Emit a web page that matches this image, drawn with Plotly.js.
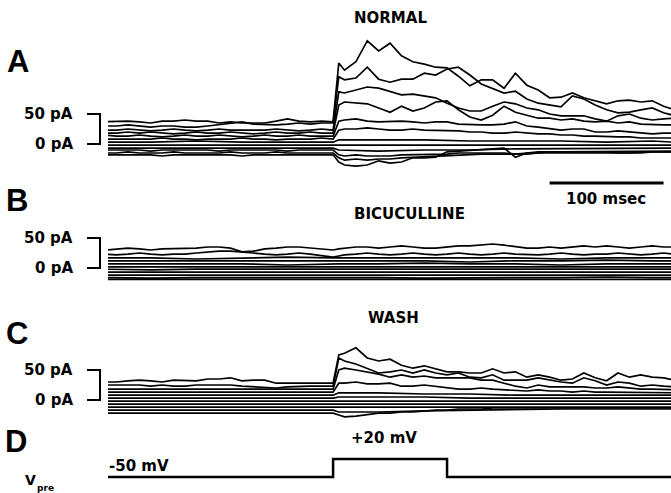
<!DOCTYPE html>
<html><head><meta charset="utf-8">
<script src="https://cdn.plot.ly/plotly-3.0.1.min.js"></script>
<style>html,body{margin:0;padding:0;background:#fff}#chart{width:671px;height:493px}</style>
</head><body><div id="chart"></div>
<script>
// ---- time bases (ms) ----
const tFull = [0,10,20,30,40,50,60,70,80,90,100,110,120,130,140,150,160,170,180,190,200,205,210,220,230,240,250,260,270,280,290,300,310,320,330,340,350,360,370,380,390,400,410,420,430,440,450,460,470,480,490,500];
const tFlat = [0,40,80,120,160,200,205,240,280,320,360,400,440,480,500];

// ---- Panel A: NORMAL (pA) ----
const A1 = [37,38,38,37,35,38,38,40,38,38,35,37,35,35,35,38,42,38,37,38,37, 135,123,137,172,155,168,147,137,133,128,127,113,97,107,107,93,118,98,90,77,78,85,77,72,67,72,73,70,72,63,57];
const A2 = [30,30,32,30,28,30,30,28,28,30,32,35,37,33,32,32,33,35,33,35,35, 112,107,110,128,108,103,108,108,118,115,125,128,115,100,93,85,88,75,68,65,62,80,75,65,57,52,53,57,60,52,47];
const A3 = [23,23,25,23,22,23,25,23,22,23,25,23,23,22,23,25,23,22,23,25,23, 87,85,90,95,93,87,82,83,80,77,68,60,55,55,63,70,67,60,57,50,47,47,47,42,38,47,50,43,40,42,43];
const A4 = [18,18,20,18,20,18,17,18,20,18,18,20,18,17,18,20,18,18,20,18,18, 65,70,68,67,60,53,63,55,60,70,72,57,45,40,48,63,53,48,43,43,40,42,38,37,38,35,37,33,32,32,32];
const A5 = [15,13,13,15,13,12,13,15,13,13,15,13,12,13,15,13,13,15,13,13,13, 38,40,42,38,37,38,38,37,35,37,37,33,32,32,32,33,37,30,28,25,23,25,25,20,20,22,20,18,17,18,18];
const A6 = [8,8,7,8,8,10,8,8,7,8,8,8,10,8,8,7,8,8,8,10,8, 23,25,25,27,25,23,23,25,23,23,22,22,20,20,18,18,20,18,17,17,15,15,13,13,12,12,12,10,10,10,10];
const A7 = [3,3,5,3,3,3, 7,7,7,5,5,5,3,5,3];
const A8 = [-2,-2,-3,-2,-2,-2, -3,-2,-3,-2,-3,-2,-2,-2,-2];
const A9 = [-7,-7,-8,-7,-7,-7, -10,-12,-10,-10,-8,-8,-8,-7,-7];
const A10 = [-10,-10,-10,-10,-12,-10,-10,-10,-10,-10,-12,-10,-10,-10,-10,-10,-12,-10,-10,-10,-10, -18,-20,-18,-20,-20,-20,-18,-18,-17,-17,-17,-15,-15,-15,-15,-15,-17,-15,-15,-13,-13,-13,-13,-13,-13,-13,-12,-13,-12,-12,-12];
const A11 = [-15,-15,-13,-15,-15,-15,-13,-15,-15,-15,-15,-13,-15,-15,-15,-13,-15,-15,-15,-15,-15, -23,-27,-25,-27,-25,-25,-23,-22,-22,-20,-20,-18,-18,-17,-17,-17,-18,-17,-15,-15,-15,-15,-15,-15,-15,-15,-15,-15,-13,-13,-13];
const A12 = [-18,-18,-18,-18,-18,-20,-18,-18,-18,-18,-18,-18,-20,-18,-18,-18,-18,-18,-18,-18,-18, -30,-35,-37,-35,-28,-32,-30,-23,-23,-22,-13,-12,-10,-10,-8,-7,-22,-15,-13,-13,-13,-13,-13,-13,-13,-15,-15,-13,-13,-13,-13];

// ---- Panel B: BICUCULLINE (pA) ----
const B1 = [30,32,33,32,30,32,32,33,33,35,35,33,27,28,32,33,35,35,33,32,30, 32,33,35,35,33,35,37,35,33,33,35,37,37,38,40,38,35,33,33,35,33,35,37,35,37,35,33,35,37,35,35];
const B2 = [23,22,23,25,23,22,23,23,25,27,28,28,27,25,23,22,23,25,23,20,18, 20,22,23,25,23,22,23,25,23,22,23,25,23,22,23,25,23,22,22,23,25,23,22,23,23,25,23,22,23,25,23];
const B3 = [17,17,15,17,18,17, 17,17,18,17,17,15,17,17,17];
const B4 = [12,12,13,12,12,12, 12,13,12,10,12,12,13,12,12];
const B5 = [7,7,8,7,5,7, 7,7,8,7,7,5,7,7,7];
const B6 = [2,2,3,2,2,2, 2,3,2,2,2,3,2,2,2];
const B7 = [-2,-3,-2,-2,-3,-2, -2,-2,-3,-2,-2,-2,-3,-2,-2];
const B8 = [-7,-7,-7,-8,-7,-7, -7,-7,-7,-8,-7,-7,-7,-8,-7];
const B9 = [-12,-12,-13,-12,-12,-12, -12,-12,-12,-13,-12,-12,-12,-12,-12];
const B10 = [-16,-17,-16,-16,-15,-16, -16,-16,-17,-16,-16,-16,-15,-16,-16];
const B11 = [-19,-19,-20,-19,-19,-19, -19,-19,-19,-20,-19,-19,-19,-19,-19];

// ---- Panel C: WASH (pA) ----
const C1 = [30,30,32,33,32,30,33,33,32,35,35,37,32,33,33,28,28,28,28,28,28, 75,78,87,70,65,68,58,53,57,52,47,47,45,45,52,45,47,38,42,38,33,35,45,37,32,45,38,42,38,37,33];
const C2 = [25,25,25,25,23,25,23,23,25,25,25,25,23,22,20,20,22,23,23,23,23, 70,65,60,52,45,47,50,45,50,45,42,45,38,37,42,33,33,33,37,33,30,28,37,32,25,30,28,23,25,23,22];
const C3 = [18,18,17,18,18,18,17,18,18,18,18,17,18,18,18,17,18,18,18,17,18, 50,53,50,47,43,38,42,38,40,37,37,37,37,33,33,28,23,20,25,22,22,23,22,20,20,22,20,18,18,17,17];
const C4 = [13,13,13,12,13,13,13,13,12,13,13,13,13,12,13,13,13,13,12,13,13, 28,28,30,27,27,28,23,23,25,23,20,18,18,20,18,17,17,15,17,15,15,13,15,13,13,13,13,12,13,12,12];
const C5 = [8,8,8,7,8,8, 12,12,10,10,8,8,8,7,8];
const C6 = [3,3,3,3,2,3, 5,5,5,3,3,3,3,3,3];
const C7 = [-2,-2,-2,-3,-2,-2, -3,-3,-2,-2,-2,-2,-2,-2,-2];
const C8 = [-7,-7,-7,-7,-8,-7, -8,-8,-8,-8,-7,-7,-7,-7,-7];
const C9 = [-12,-12,-12,-12,-12,-12, -13,-13,-13,-12,-12,-12,-12,-12,-12];
const C10 = [-17,-17,-17,-17,-17,-17, -20,-20,-18,-17,-15,-15,-15,-15,-15];
const C11 = [-22,-22,-22,-22,-23,-22,-22,-22,-22,-22,-22,-23,-22,-22,-22,-22,-22,-22,-23,-22,-22, -25,-28,-27,-25,-22,-22,-20,-20,-18,-17,-17,-15,-15,-15,-13,-13,-13,-13,-13,-13,-13,-12,-13,-13,-12,-13,-13,-12,-13,-13,-13];

// ---- Panel D: presynaptic command (mV) ----
const tStep = [0,200,200,300,300,500];
const Vpre = [-50,-50,20,20,-50,-50];

// ---- labels ----
const panelLetters = ['A','B','C','D'];
const panelTitles = ['NORMAL','BICUCULLINE','WASH'];
const bracketLabels = ['50 pA','0 pA'];
const bracketValues = [50, 0];
const scaleBarMs = 100;
const scaleBarLabel = '100 msec';
const stepLabelHigh = '+20 mV';
const stepLabelLow = '-50 mV';

// ---- geometry (pixels) ----
const W = 671, H = 493, L = 108;
const px = p => (p - L) / (W - L);
const py = p => 1 - p / H;
function panelAxis(topPx, botPx, zeroPx, pxPerUnit) {
  return {domain:[1 - botPx / H, 1 - topPx / H],
          range:[(zeroPx - botPx) / pxPerUnit, (zeroPx - topPx) / pxPerUnit],
          visible:false, anchor:'x', fixedrange:true};
}

const traces = [];
function add(t, arr, ax, w) {
  traces.push({x:t, y:arr, yaxis:ax, xaxis:'x', mode:'lines', hoverinfo:'skip',
               line:{color:'#000', width:w || 1.7}, showlegend:false});
}
[A1,A2,A3,A4,A5,A6,A10,A11,A12].forEach(a => add(tFull, a, 'y'));
[A7,A8,A9].forEach(a => add(tFlat, a, 'y'));
[B1,B2].forEach(a => add(tFull, a, 'y2'));
[B3,B4,B5,B6,B7,B8,B9,B10,B11].forEach(a => add(tFlat, a, 'y2'));
[C1,C2,C3,C4,C11].forEach(a => add(tFull, a, 'y3'));
[C5,C6,C7,C8,C9,C10].forEach(a => add(tFlat, a, 'y3'));
add(tStep, Vpre, 'y4', 2.5);

const boldFont = (s) => ({family:'DejaVu Sans', size:s, color:'#000', weight:'bold'});
const letterFont = {family:'Liberation Sans', size:31, color:'#000', weight:'bold'};

const annotations = [];
const shapes = [];
function ann(text, xp, yp, font, xanchor) {
  annotations.push({text, x:px(xp), y:py(yp), xref:'paper', yref:'paper',
    showarrow:false, font, xanchor:xanchor || 'center', yanchor:'middle'});
}
// panel letters
[[17.5,61],[16.5,201],[17,333],[16,441]].forEach((p,i) => ann(panelLetters[i], p[0], p[1], letterFont));
// titles
[[391,18],[409,214],[393,318]].forEach((p,i) => ann(panelTitles[i], p[0], p[1], boldFont(15)));
// brackets (in each panel's pA scale)
['y','y2','y3'].forEach(ax => {
  shapes.push({type:'path', xref:'paper', yref:ax,
    path:`M ${px(87)},${bracketValues[0]} L ${px(100)},${bracketValues[0]} L ${px(100)},${bracketValues[1]} L ${px(87)},${bracketValues[1]}`,
    line:{color:'#000', width:2}});
  bracketValues.forEach((v,i) => annotations.push({text:bracketLabels[i], x:px(75), y:v, xref:'paper', yref:ax,
    showarrow:false, xanchor:'right', yanchor:'middle', font:boldFont(15)}));
});
// time scale bar
shapes.push({type:'line', xref:'x', yref:'paper', x0:390, x1:390 + scaleBarMs, y0:py(183), y1:py(183),
  line:{color:'#000', width:3}});
ann(scaleBarLabel, 606, 199, boldFont(15));
// step labels
ann(stepLabelHigh, 384, 438, boldFont(15));
ann(stepLabelLow, 107, 466, boldFont(15), 'left');
ann('V', 30, 480, boldFont(14));
ann('pre', 45, 488, boldFont(9));

const layout = {
  width:W, height:H, margin:{l:L, r:0, t:0, b:0},
  paper_bgcolor:'#fff', plot_bgcolor:'rgba(0,0,0,0)', showlegend:false,
  xaxis:{range:[2.5, 496.5], visible:false, fixedrange:true},
  yaxis: panelAxis(28, 182, 144, 0.6),
  yaxis2: panelAxis(232, 292, 268, 0.6),
  yaxis3: panelAxis(335, 428, 400, 0.6),
  yaxis4: panelAxis(450, 486, 477 - 50 * (18/70), 18/70),
  shapes, annotations
};
Plotly.newPlot('chart', traces, layout, {staticPlot:true, displayModeBar:false});
</script></body></html>
